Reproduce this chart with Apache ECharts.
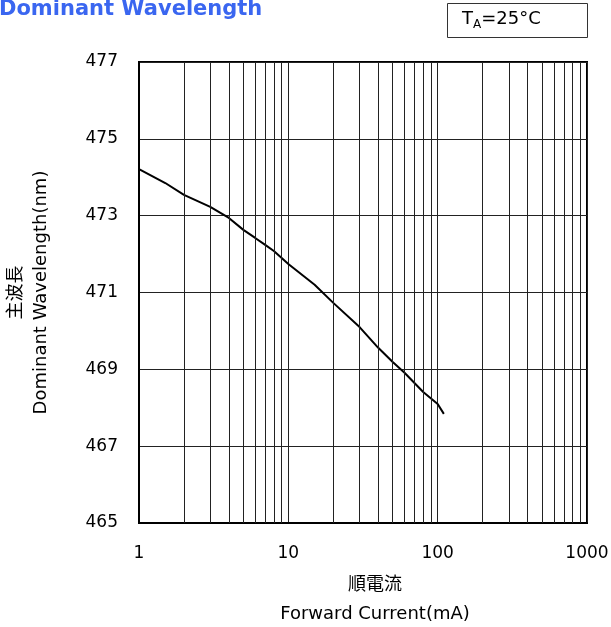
<!DOCTYPE html>
<html><head><meta charset="utf-8">
<script src="https://cdn.jsdelivr.net/npm/echarts@6/dist/echarts.min.js"></script>
<style>html,body{margin:0;padding:0;background:#fff}#c{width:611px;height:627px}</style>
</head><body><div id="c"></div>
<script>
// Data
const currents =   [1,      1.5,    2,      3,      4,      5,      6,      7,      8,      10,     15,     20,     30,     40,     50,     60,     80,     100,    110];
const wavelength = [474.21, 473.85, 473.54, 473.23, 472.94, 472.63, 472.42, 472.24, 472.08, 471.74, 471.20, 470.73, 470.10, 469.56, 469.19, 468.91, 468.41, 468.10, 467.84];
const minorGrid = [2,3,4,5,6,7,8,9,20,30,40,50,60,70,80,90,200,300,400,500,600,700,800,900];
const yTicks = [465, 467, 469, 471, 473, 475, 477];
const titleText = 'Dominant Wavelength';
const condText = '25°C';

const font = '"DejaVu Sans", sans-serif';
const cjk = '"DejaVu Sans", "Noto Sans CJK JP", sans-serif';
const chart = echarts.init(document.getElementById('c'), null, {renderer: 'canvas'});
chart.setOption({
  animation: false,
  backgroundColor: '#fff',
  title: {
    text: titleText, left: -1, top: -1, padding: 0,
    textStyle: {color: '#3a66f0', fontFamily: font, fontWeight: 'bold', fontSize: 21}
  },
  graphic: [
    {type: 'rect', left: 447, top: 3, shape: {width: 140, height: 34},
     style: {fill: '#fff', stroke: '#333', lineWidth: 1}},
    {type: 'text', left: 462, top: 10,
     style: {rich: {
        a: {fontFamily: font, fontSize: 18, fill: '#000'},
        s: {fontFamily: font, fontSize: 12, fill: '#000', padding: [11, 0, 0, 0]}
      }, text: '{a|T}{s|A}{a|=' + condText + '}'}}
  ],
  grid: {left: 139, right: 24, top: 62, bottom: 104, show: true, borderColor: '#000', borderWidth: 2,
         backgroundColor: 'transparent', containLabel: false, outerBoundsMode: 'none'},
  xAxis: {
    type: 'log', logBase: 10, min: 1, max: 1000,
    name: '順電流\nForward Current(mA)', nameLocation: 'middle', nameGap: 48,
    nameTextStyle: {fontFamily: cjk, fontSize: 18, color: '#000', lineHeight: 29, padding: [0, 0, 0, 24]},
    axisLine: {lineStyle: {color: '#000', width: 2}},
    axisTick: {show: false},
    axisLabel: {fontFamily: font, fontSize: 17, color: '#000', margin: 22, formatter: v => String(v)},
    splitLine: {show: true, lineStyle: {color: '#222', width: 1}}
  },
  yAxis: {
    type: 'value', min: 465, max: 477, interval: 2,
    name: '主波長\nDominant Wavelength(nm)', nameLocation: 'middle', nameGap: 85,
    nameTextStyle: {fontFamily: cjk, fontSize: 18, color: '#000', lineHeight: 25},
    axisLine: {lineStyle: {color: '#000', width: 2}},
    axisTick: {show: false},
    axisLabel: {fontFamily: font, fontSize: 17, color: '#000', margin: 21,
      formatter: v => yTicks.includes(v) ? String(v) : ''},
    splitLine: {show: true, lineStyle: {color: '#222', width: 1}}
  },
  series: [{
    type: 'line',
    data: currents.map((c, i) => [c, wavelength[i]]),
    showSymbol: false, smooth: false,
    lineStyle: {color: '#000', width: 2},
    markLine: {
      silent: true, symbol: 'none', label: {show: false},
      lineStyle: {color: '#222', width: 1, type: 'solid'},
      data: minorGrid.map(v => ({xAxis: v}))
    }
  }]
});
</script></body></html>
